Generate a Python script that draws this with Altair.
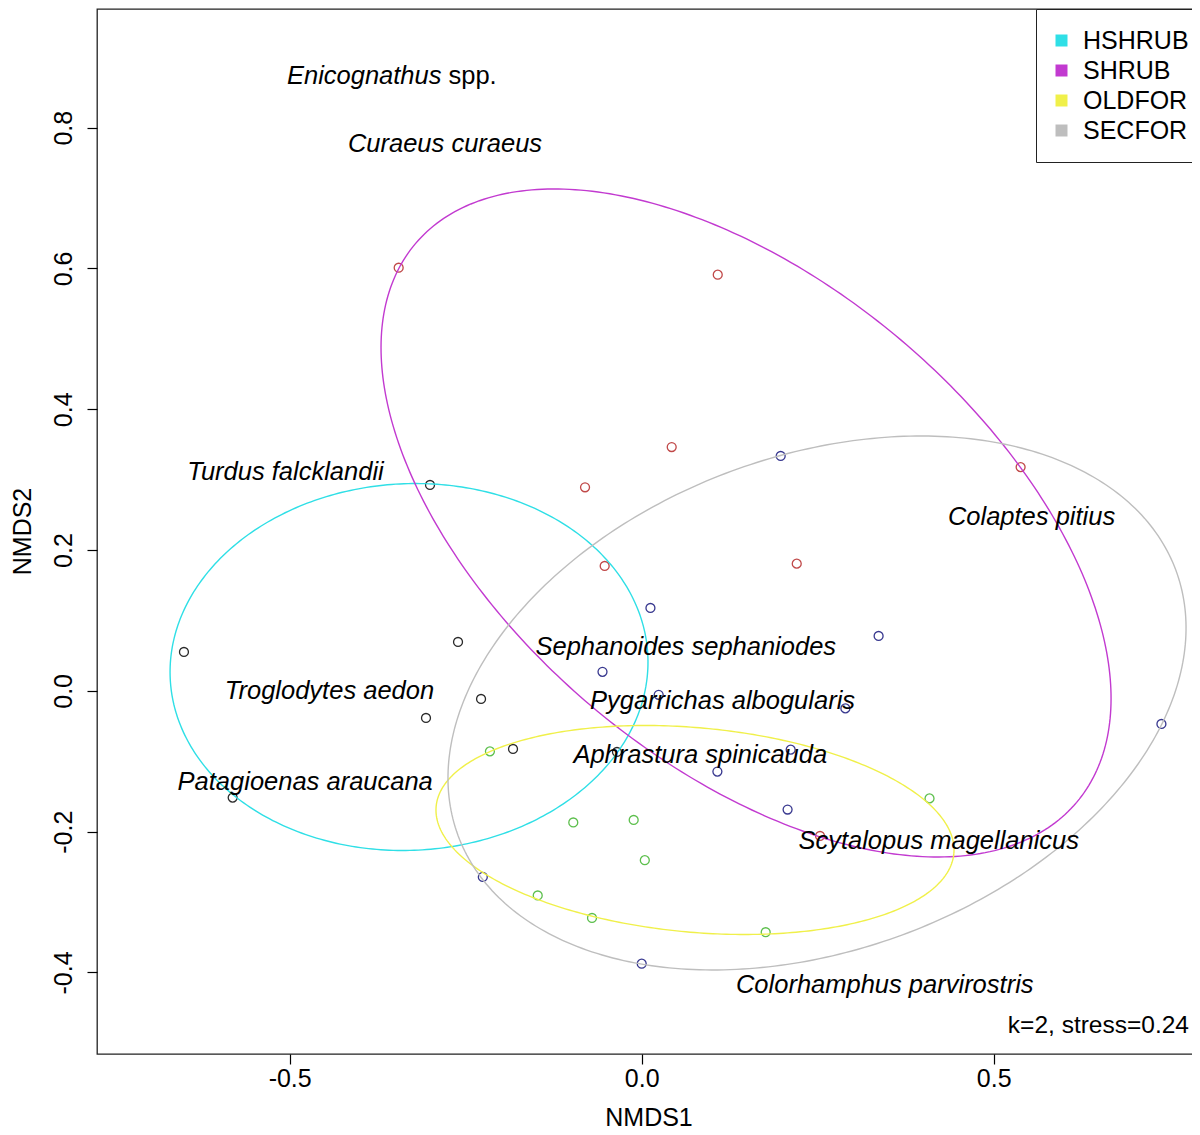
import numpy as np
import pandas as pd
import altair as alt

FONT = "Liberation Sans"
FRAME = "#222222"

# ---- groups and colours ----
groups = ["HSHRUB", "SHRUB", "OLDFOR", "SECFOR"]
ellipse_colors = ["#2fdfe6", "#c23ad0", "#f0f04a", "#bebebe"]
point_colors = ["#2a2a2a", "#c04848", "#5cbf4c", "#38388f"]

# ---- site scores (NMDS1, NMDS2) ----
site_group = ["HSHRUB"] * 8 + ["SHRUB"] * 8 + ["OLDFOR"] * 8 + ["SECFOR"] * 12
site_x = [
    -0.3007, -0.6502, -0.5810, -0.2609, -0.2282, -0.3064, -0.1828, -0.0351,
    -0.3452, 0.1080, 0.0426, -0.0805, -0.0526, 0.2202, 0.5382, 0.2533,
    -0.2156, -0.0972, -0.1477, -0.0706, -0.0114, 0.0044, 0.1761, 0.4088,
    0.0124, -0.0557, 0.0241, 0.2893, 0.3365, 0.7382, 0.2116, 0.1075, 0.2072, 0.0000, 0.1974, -0.2257,
]
site_y = [
    0.2925, 0.0553, -0.1516, 0.0695, -0.0115, -0.0385, -0.0825, -0.0868,
    0.6011, 0.5912, 0.3464, 0.2892, 0.1774, 0.1807, 0.3179, -0.2061,
    -0.0859, -0.1869, -0.2906, -0.3226, -0.1834, -0.2405, -0.3428, -0.1527,
    0.1178, 0.0271, -0.0055, -0.0249, 0.0780, -0.0470, -0.0835, -0.1146, -0.1685, -0.3875, 0.3337, -0.2643,
]

# ---- ellipse hulls per group: centre, semi-axes, rotation (deg) ----
ell_cx = [-0.3305, 0.1482, 0.0757, 0.2490]
ell_cy = [0.0339, 0.2385, -0.1976, -0.0172]
ell_a = [0.3396, 0.6148, 0.3692, 0.5435]
ell_b = [0.2604, 0.3405, 0.1452, 0.3510]
ell_deg = [2.9, -40.2, -5.2, 20.25]

# ---- species scores ----
sp_names = ["Curaeus curaeus", "Turdus falcklandii", "Colaptes pitius",
            "Sephanoides sephaniodes", "Troglodytes aedon", "Pygarrichas albogularis",
            "Aphrastura spinicauda", "Patagioenas araucana", "Scytalopus magellanicus",
            "Colorhamphus parvirostris"]
sp_x = [-0.2794, -0.5060, 0.5537, 0.0626, -0.4435, 0.1148, 0.0832, -0.4780, 0.4219, 0.3452]
sp_y = [0.7760, 0.3092, 0.2457, 0.0605, -0.0016, -0.0153, -0.0920, -0.1303, -0.2141, -0.4199]
genus_name = ["Enicognathus"]
genus_suffix = ["spp."]
genus_x = [-0.3547]
genus_y = [0.872]

stress_text = ["k=2, stress=0.24"]

x_ticks = [-0.5, 0.0, 0.5]
y_ticks = [-0.4, -0.2, 0.0, 0.2, 0.4, 0.6, 0.8]
x_domain = [-0.7737, 0.7930]
y_domain = [-0.5158, 0.9686]

# ---- build tables ----
sites = pd.DataFrame({"x": site_x, "y": site_y, "group": site_group})

rows = []
t = np.linspace(0, 2 * np.pi, 361)
for g, cx, cy, a, b, d in zip(groups, ell_cx, ell_cy, ell_a, ell_b, ell_deg):
    th = np.deg2rad(d)
    ex = cx + a * np.cos(t) * np.cos(th) - b * np.sin(t) * np.sin(th)
    ey = cy + a * np.cos(t) * np.sin(th) + b * np.sin(t) * np.cos(th)
    for i, (xx, yy) in enumerate(zip(ex, ey)):
        rows.append({"x": xx, "y": yy, "group": g, "i": i})
ell = pd.DataFrame(rows)

species = pd.DataFrame({"x": sp_x, "y": sp_y, "name": sp_names})
genus = pd.DataFrame({"x": genus_x, "y": genus_y, "name": genus_name, "suffix": genus_suffix})
stress = pd.DataFrame({"t": stress_text})

lab_expr = "datum.value == 0 ? '0.0' : (datum.value < 0 ? '-' + format(-datum.value, '.1f') : format(datum.value, '.1f'))"

xs = alt.Scale(domain=x_domain, nice=False, zero=False)
ys = alt.Scale(domain=y_domain, nice=False, zero=False)

x_enc = alt.X("x:Q", scale=xs, axis=alt.Axis(
    values=x_ticks, labelExpr=lab_expr, title="NMDS1", grid=False, domain=False,
    tickSize=10, tickColor="black", tickWidth=1.2,
    labelFont=FONT, labelFontSize=25, labelColor="black", labelPadding=22,
    labelBaseline="alphabetic", labelFlush=False,
    titleFont=FONT, titleFontSize=25, titleFontWeight="normal", titleColor="black",
    titleY=71, titleBaseline="alphabetic"))
y_enc = alt.Y("y:Q", scale=ys, axis=alt.Axis(
    values=y_ticks, labelExpr=lab_expr, title="NMDS2", grid=False, domain=False,
    tickSize=10, tickColor="black", tickWidth=1.2,
    labelFont=FONT, labelFontSize=25, labelColor="black", labelPadding=16,
    labelAngle=270, labelAlign="center", labelBaseline="alphabetic", labelFlush=False,
    titleFont=FONT, titleFontSize=25, titleFontWeight="normal", titleColor="black",
    titleAngle=270, titleX=-67, titleY=522, titleAlign="center", titleBaseline="alphabetic"))

points = alt.Chart(sites).mark_point(filled=False, size=80, strokeWidth=1.3, opacity=1).encode(
    x=x_enc, y=y_enc,
    color=alt.Color("group:N", scale=alt.Scale(domain=groups, range=point_colors), legend=None),
)

ellipses = alt.Chart(ell).mark_line(strokeWidth=1.4).encode(
    x="x:Q", y="y:Q", order="i:Q", detail="group:N",
    color=alt.Color("group:N", scale=alt.Scale(domain=groups, range=ellipse_colors),
                    legend=alt.Legend(title=" ", titleFontSize=1, titlePadding=2,
                                      orient="none", legendX=939, legendY=0,
                                      symbolType="square", symbolSize=36, symbolStrokeWidth=6,
                                      symbolOffset=-3,
                                      labelFont=FONT, labelFontSize=25, labelColor="black",
                                      labelExpr="datum.label + '      '",
                                      labelOffset=9, rowPadding=-1, padding=16,
                                      strokeColor=FRAME, fillColor="white")),
)

spec_text = alt.Chart(species).mark_text(font=FONT, fontSize=25.5, fontStyle="italic",
                                         color="black", align="center", baseline="middle",
                                         dy=-1).encode(
    x="x:Q", y="y:Q", text="name:N")

genus_it = alt.Chart(genus).mark_text(font=FONT, fontSize=25.5, fontStyle="italic", color="black",
                                      align="right", baseline="middle", dx=49.5, dy=-1).encode(
    x="x:Q", y="y:Q", text="name:N")
genus_up = alt.Chart(genus).mark_text(font=FONT, fontSize=25.5, color="black",
                                      align="left", baseline="middle", dx=56.5, dy=-1).encode(
    x="x:Q", y="y:Q", text="suffix:N")

stress_lab = alt.Chart(stress).mark_text(font=FONT, fontSize=24.5, color="black",
                                         align="right", baseline="middle").encode(
    x=alt.value(1092), y=alt.value(1017), text="t:N")

chart = alt.layer(points, ellipses, spec_text, genus_it, genus_up, stress_lab).resolve_scale(
    color="independent"
).properties(
    width=1103, height=1045,
    padding={"left": 89, "top": 1, "right": -8, "bottom": 73},
    autosize=alt.AutoSizeParams(type="none"),
).configure(background="white").configure_view(stroke=FRAME, strokeWidth=1.3)

chart.save("out.html", embed_options={"renderer": "svg", "actions": False})
